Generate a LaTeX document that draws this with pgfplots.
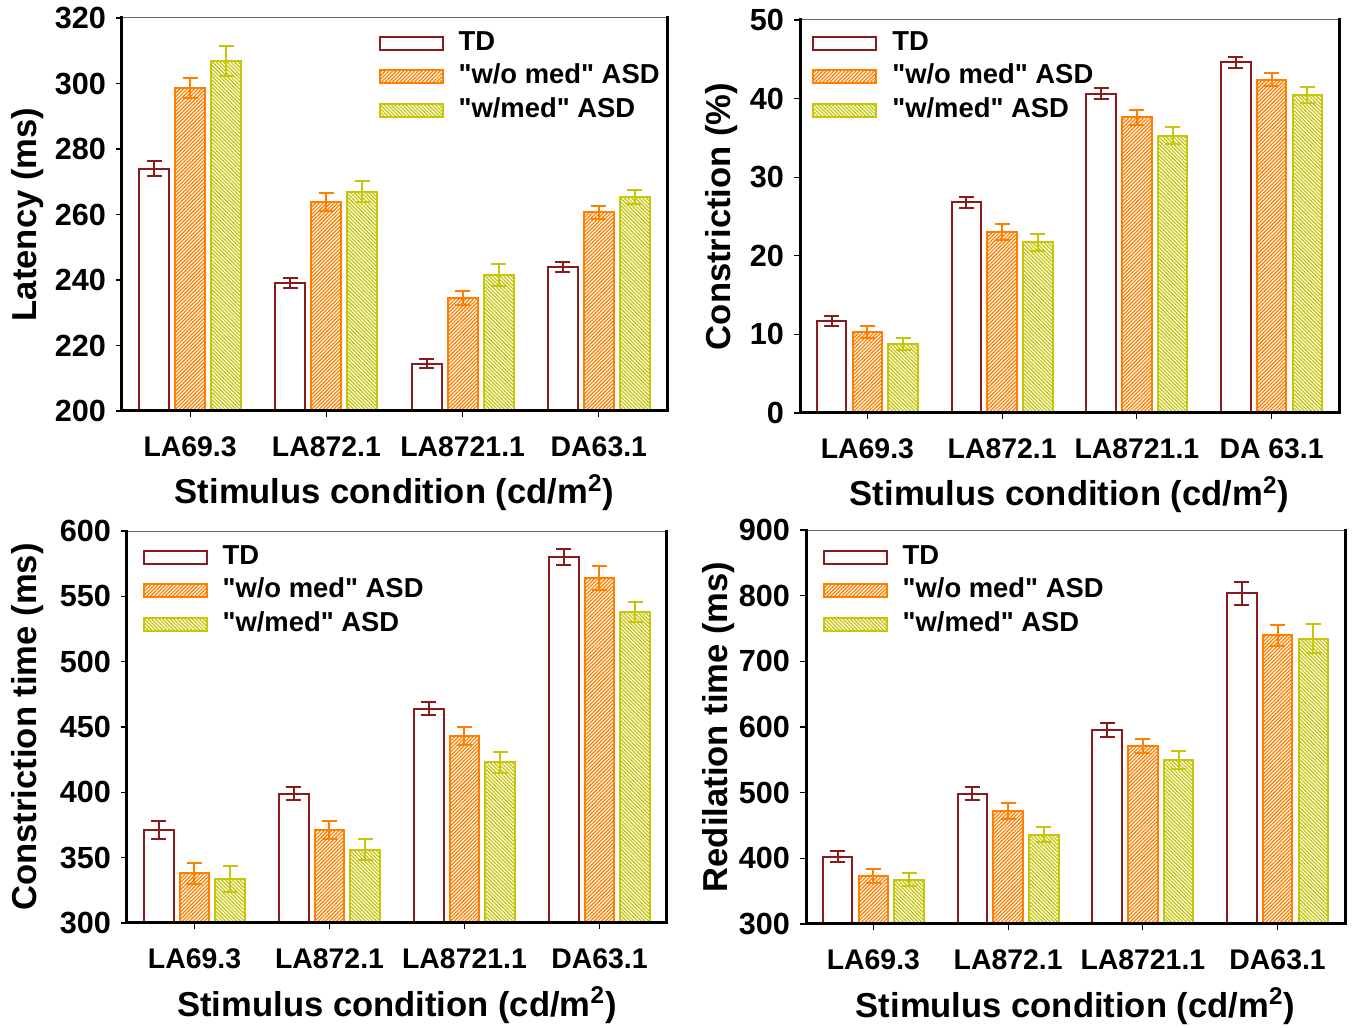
\documentclass[border=0pt]{standalone}
\usepackage{fontspec}
\setmainfont{Liberation Sans}[Ligatures=TeXOff]
\usepackage{pgfplots}
\pgfplotsset{compat=1.18}
\usetikzlibrary{patterns.meta}

\definecolor{tdred}{RGB}{139,26,26}
\definecolor{orng}{RGB}{255,128,0}
\definecolor{olv}{RGB}{198,198,10}

\newcommand\tickfont{\fontsize{14.2}{16}\selectfont\bfseries}
\newcommand\legfont{\fontsize{13.7}{15}\selectfont\bfseries}
\newcommand\ytickfont{\fontsize{15.3}{17}\selectfont\bfseries}
\newcommand\labfont{\fontsize{17.3}{19}\selectfont\bfseries}

\pgfplotsset{
  panel/.style={
    scale only axis,
    xmin=-0.5, xmax=3.5, xtick={0,1,2,3},
    tick align=outside, tick pos=left,
    major tick length=3pt,
    clip mode=individual,
    axis line style={line width=0.5pt, black!60},
    every tick/.style={black, line width=0.6pt},
    x tick label style={font=\tickfont, yshift=-6.5pt},
    y tick label style={font=\ytickfont, xshift=-1.5pt},
    /pgf/number format/assume math mode=true,
    xlabel style={font=\labfont, at={(axis description cs:0.5,0)}, anchor=base, yshift=-46.5pt},
    ylabel style={font=\labfont, anchor=base},
    legend style={draw=none, fill=none, inner sep=0pt, anchor=north west, font=\legfont,
      nodes={inner sep=1pt, text height=10pt, text depth=3pt, anchor=west}, row sep=1.75pt,
      /tikz/every odd column/.style={column sep=6.5pt}},
    legend cell align=left,
    after end axis/.code={\draw[line width=1.5pt, black, line cap=rect] (rel axis cs:0,1) -- (rel axis cs:0,0) -- (rel axis cs:1,0) -- (rel axis cs:1,1);},
  },
  mybar/.style={ybar, bar width=0.22, bar shift=0pt,
    legend image code/.code={\draw[##1] (0pt,-3.25pt) rectangle (31.5pt,3.25pt);}},
  tdst/.style={mybar, draw=tdred, fill=white, line width=1pt,
    error bars/y dir=both, error bars/y explicit,
    error bars/error bar style={line width=1pt, tdred},
    error bars/error mark options={rotate=90, mark size=3.75pt, line width=1pt, tdred}},
  wost/.style={mybar, draw=orng, fill=orng, line width=1pt,
    postaction={pattern={Lines[angle=45, distance=1.3pt, line width=0.55pt]}, pattern color=white},
    error bars/y dir=both, error bars/y explicit,
    error bars/error bar style={line width=1pt, orng},
    error bars/error mark options={rotate=90, mark size=3.75pt, line width=1pt, orng}},
  wst/.style={mybar, draw=olv, fill=olv, line width=1pt,
    postaction={pattern={Lines[angle=-45, distance=1.3pt, line width=0.55pt]}, pattern color=white},
    error bars/y dir=both, error bars/y explicit,
    error bars/error bar style={line width=1pt, olv},
    error bars/error mark options={rotate=90, mark size=3.75pt, line width=1pt, olv}},
}

\begin{document}
\begin{tikzpicture}
\useasboundingbox (0pt,0pt) rectangle (680pt,514pt);

% Panel 1: Latency
\begin{axis}[panel, at={(61pt,308.5pt)}, anchor=south west, width=272.5pt, height=196.5pt,
  ymin=200, ymax=320, ytick={200,220,...,320},
  xticklabels={LA69.3,LA872.1,LA8721.1,DA63.1},
  xlabel={Stimulus condition (cd/m\textsuperscript{2})},
  ylabel={Latency (ms)},
  ylabel style={at={([xshift=-42.5pt]axis description cs:0,0.5)}},
  legend style={at={(0.47,0.975)}}]
\addplot[tdst] coordinates {(-0.265,274) +- (0,2.3) (0.735,239) +- (0,1.5) (1.735,214.5) +- (0,1.5) (2.735,244) +- (0,1.5)};
\addplot[wost] coordinates {(0,298.6) +- (0,3) (1,263.9) +- (0,2.75) (2,234.5) +- (0,2) (3,260.7) +- (0,2)};
\addplot[wst] coordinates {(0.265,306.9) +- (0,4.5) (1.265,267) +- (0,3.3) (2.265,241.5) +- (0,3.3) (3.265,265.3) +- (0,2.1)};
\legend{TD,"w/o med" ASD,"w/med" ASD}
\end{axis}

% Panel 2: Constriction (%)
\begin{axis}[panel, at={(400pt,307.5pt)}, anchor=south west, width=269.5pt, height=196.5pt,
  ymin=0, ymax=50, ytick={0,10,...,50},
  xticklabels={LA69.3,LA872.1,LA8721.1,DA 63.1},
  xlabel={Stimulus condition (cd/m\textsuperscript{2})},
  ylabel={Constriction (\%)},
  ylabel style={at={([xshift=-35pt]axis description cs:0,0.5)}},
  legend style={at={(0.022,0.98)}}]
\addplot[tdst] coordinates {(-0.265,11.7) +- (0,0.6) (0.735,26.8) +- (0,0.7) (1.735,40.6) +- (0,0.7) (2.735,44.6) +- (0,0.7)};
\addplot[wost] coordinates {(0,10.3) +- (0,0.8) (1,23.0) +- (0,1.0) (2,37.6) +- (0,0.9) (3,42.4) +- (0,0.8)};
\addplot[wst] coordinates {(0.265,8.8) +- (0,0.8) (1.265,21.7) +- (0,1.1) (2.265,35.3) +- (0,1.1) (3.265,40.5) +- (0,1.0)};
\legend{TD,"w/o med" ASD,"w/med" ASD}
\end{axis}

% Panel 3: Constriction time
\begin{axis}[panel, at={(63.5pt,52.5pt)}, anchor=south west, width=270pt, height=196pt,
  ymin=300, ymax=600, ytick={300,350,...,600},
  xticklabels={LA69.3,LA872.1,LA8721.1,DA63.1},
  xlabel={Stimulus condition (cd/m\textsuperscript{2})},
  ylabel={Constriction time (ms)},
  ylabel style={at={([xshift=-45pt]axis description cs:0,0.5)}},
  legend style={at={(0.028,0.972)}}]
\addplot[tdst] coordinates {(-0.265,371) +- (0,7) (0.735,399) +- (0,5) (1.735,464) +- (0,5) (2.735,580) +- (0,6)};
\addplot[wost] coordinates {(0,338) +- (0,8) (1,371) +- (0,7) (2,443) +- (0,7) (3,564) +- (0,9)};
\addplot[wst] coordinates {(0.265,334) +- (0,10) (1.265,356) +- (0,8) (2.265,423) +- (0,8) (3.265,538) +- (0,8)};
\legend{TD,"w/o med" ASD,"w/med" ASD}
\end{axis}

% Panel 4: Redilation time
\begin{axis}[panel, at={(403pt,52pt)}, anchor=south west, width=269.5pt, height=197pt,
  ymin=300, ymax=900, ytick={300,400,...,900},
  xticklabels={LA69.3,LA872.1,LA8721.1,DA63.1},
  xlabel={Stimulus condition (cd/m\textsuperscript{2})},
  ylabel={Redilation time (ms)},
  ylabel style={at={([xshift=-39.5pt]axis description cs:0,0.5)}},
  legend style={at={(0.03,0.97)}}]
\addplot[tdst] coordinates {(-0.265,402.5) +- (0,8.5) (0.735,498.4) +- (0,9.5) (1.735,595.4) +- (0,11) (2.735,803.5) +- (0,17)};
\addplot[wost] coordinates {(0,373.6) +- (0,10.5) (1,472.6) +- (0,12) (2,571) +- (0,11) (3,740) +- (0,16)};
\addplot[wst] coordinates {(0.265,367.5) +- (0,10) (1.265,436) +- (0,11.5) (2.265,549.7) +- (0,13) (3.265,734.5) +- (0,22)};
\legend{TD,"w/o med" ASD,"w/med" ASD}
\end{axis}
\end{tikzpicture}
\end{document}
